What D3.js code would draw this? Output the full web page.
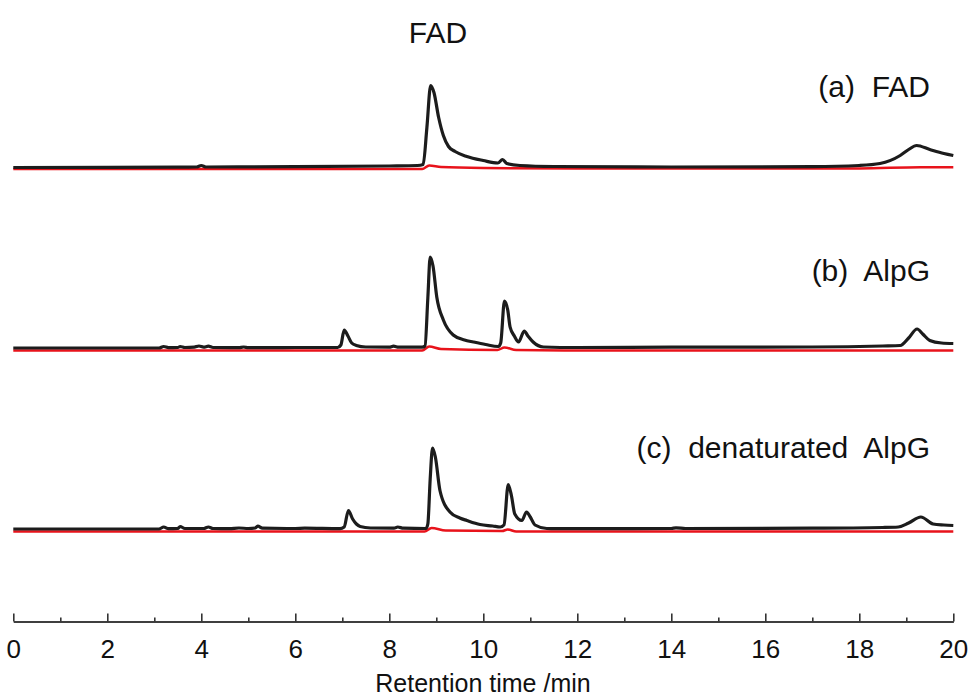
<!DOCTYPE html>
<html lang="en">
<head>
<meta charset="utf-8">
<title>HPLC traces: FAD, AlpG, denaturated AlpG</title>
<style>
body { margin: 0; background: #fff; }
* { font-family: "Liberation Sans", Arial, sans-serif; }
</style>
<script src="https://cdnjs.cloudflare.com/ajax/libs/d3/7.8.5/d3.min.js"></script>
</head>
<body>
<script>
// Retention time (min) / signal pairs, signal in arbitrary units above each trace's baseline
var traceA = [[0,0],[3.5,0.3],[3.9,0.5],[4.0,2],[4.1,0.5],[6,0.8],[8,1.5],[8.6,2],[8.72,3],[8.8,40],[8.88,82],[8.95,75],
	[9.05,50],[9.15,32],[9.26,21],[9.4,16],[9.65,11],[10.0,7],[10.31,4.5],[10.41,8],[10.5,4],[10.78,2],[11.5,1],[14,0.5],
	[17,0.8],[18,2],[18.44,4],[18.87,12],[19.05,18],[19.22,22],[19.5,18],[19.8,14],[20,12]];
var traceARed = [[0,-1.5],[8.7,-1.5],[8.85,2],[9.1,0.5],[10,-0.5],[12,-1],[18,-1],[19.3,0.3],[20,0.3]];

var traceB = [[0,0],[3.1,0],[3.2,1.5],[3.3,0.3],[3.5,0.5],[3.55,1.5],[3.65,0.5],[3.85,0.8],[3.95,2],[4.05,0.8],[4.15,1.8],
	[4.25,0.5],[4.8,0.3],[4.9,1],[5.0,0.3],[6,0.5],[6.9,0.5],[6.97,3],[7.04,18],[7.12,12],[7.2,5],[7.3,2.5],[7.5,1],[8.0,0.8],
	[8.09,1.8],[8.2,0.8],[8.7,0.8],[8.76,2],[8.82,50],[8.87,91],[8.93,82],[9.01,51],[9.15,28],[9.36,13],[9.6,8],[9.79,6],
	[10.05,3.5],[10.32,1.5],[10.37,5],[10.45,47],[10.52,38],[10.57,21],[10.66,12],[10.75,6],[10.87,17],[10.95,12],[11.06,6],
	[11.28,1],[12,0.5],[14,0.8],[17,1],[18.5,2],[18.87,2.5],[19.05,10],[19.23,19],[19.35,14],[19.5,7.5],[19.75,5],[20,4.5]];
var traceBRed = [[0,-2.5],[8.7,-2.5],[8.85,1.5],[9.1,-1],[10.3,-2],[10.45,0.5],[10.7,-2],[12,-2.5],[20,-2.5]];

var traceC = [[0,0],[3.1,0],[3.2,2],[3.3,0.3],[3.5,0.5],[3.55,2.5],[3.65,0.5],[4.05,0.5],[4.15,2],[4.25,0.5],[4.6,0.3],
	[4.8,1],[5.0,0.5],[5.15,1],[5.2,3],[5.3,0.8],[6,0.5],[6.2,0.8],[6.95,0.3],[7.04,2],[7.13,18.5],[7.22,10],[7.3,5],[7.38,2.5],
	[7.6,1],[8.1,0.8],[8.18,2],[8.3,0.8],[8.78,0.5],[8.82,5],[8.87,50],[8.92,81],[8.98,72],[9.08,38],[9.29,17],[9.5,11],
	[9.65,8.5],[9.93,4.5],[10.2,3],[10.36,2],[10.44,4],[10.53,44.5],[10.6,33],[10.67,15],[10.82,8.5],[10.92,17],[11.0,12],
	[11.1,4],[11.35,0.5],[12,0.3],[14,0.5],[14.1,1.2],[14.3,0.5],[17,0.8],[18.5,1.5],[18.83,2],[19.05,6],[19.31,12],
	[19.57,5],[19.8,4],[20,3.5]];
var traceCRed = [[0,-2.5],[8.75,-2.5],[8.9,1],[9.2,-1.5],[10.4,-2],[10.52,-0.5],[10.7,-2.5],[20,-2.5]];

var traceNames = ["(a)  FAD", "(b)  AlpG", "(c)  denaturated  AlpG"];
var traceOffsets = [454, 273.5, 92.5];   // vertical stacking offsets, same units as the signal
var majorTicks = [0, 2, 4, 6, 8, 10, 12, 14, 16, 18, 20];
var minorTicks = [1, 3, 5, 7, 9, 11, 13, 15, 17, 19];

var width = 976, height = 700;
var svg = d3.select("body").append("svg")
	.attr("width", width)
	.attr("height", height);

var x = d3.scaleLinear().domain([0, 20]).range([13.3, 953.3]);
var y = d3.scaleLinear().domain([0, 560]).range([621.5, 61.5]);

// axis at the bottom, ticks pointing inward
var axisY = y(0);
svg.append("g")
	.attr("transform", "translate(0," + axisY + ")")
	.call(d3.axisBottom(x).tickValues(minorTicks).tickSize(-4).tickSizeOuter(0).tickFormat(""));
var majorAxis = svg.append("g")
	.attr("transform", "translate(0," + axisY + ")")
	.call(d3.axisBottom(x).tickValues(majorTicks).tickSize(-8).tickSizeOuter(0).tickPadding(18));
svg.selectAll(".domain, .tick line")
	.style("stroke", "#333")
	.style("stroke-width", "1.6px");
majorAxis.selectAll("text")
	.style("font-size", "26px")
	.style("fill", "#111");

svg.append("text")
	.attr("x", 483)
	.attr("y", 692)
	.attr("text-anchor", "middle")
	.style("font-size", "25px")
	.style("fill", "#111")
	.text("Retention time /min");

// traces
var lineFor = function(offset) {
	return d3.line()
		.x(function(d) { return x(d[0]); })
		.y(function(d) { return y(d[1] + offset); })
		.curve(d3.curveMonotoneX);
};

var blacks = [traceA, traceB, traceC];
var reds = [traceARed, traceBRed, traceCRed];

reds.forEach(function(r, i) {
	svg.append("path")
		.datum(r)
		.attr("d", lineFor(traceOffsets[i]))
		.style("fill", "none")
		.style("stroke", "#e8131b")
		.style("stroke-width", "2.5px");
});
blacks.forEach(function(b, i) {
	svg.append("path")
		.datum(b)
		.attr("d", lineFor(traceOffsets[i]))
		.style("fill", "none")
		.style("stroke", "#1c1c1c")
		.style("stroke-width", "3.2px")
		.style("stroke-linejoin", "round");
});

// trace labels
var labelY = [97, 281, 458];
svg.selectAll(".trace-label")
	.data(traceNames)
	.enter()
	.append("text")
		.attr("class", "trace-label")
		.attr("x", 930)
		.attr("y", function(d, i) { return labelY[i]; })
		.attr("text-anchor", "end")
		.style("white-space", "pre")
		.style("font-size", "30px")
		.style("fill", "#111")
		.text(function(d) { return d; });

svg.append("text")
	.attr("x", 438)
	.attr("y", 43)
	.attr("text-anchor", "middle")
	.style("font-size", "30px")
	.style("fill", "#111")
	.text("FAD");
</script>
</body>
</html>
